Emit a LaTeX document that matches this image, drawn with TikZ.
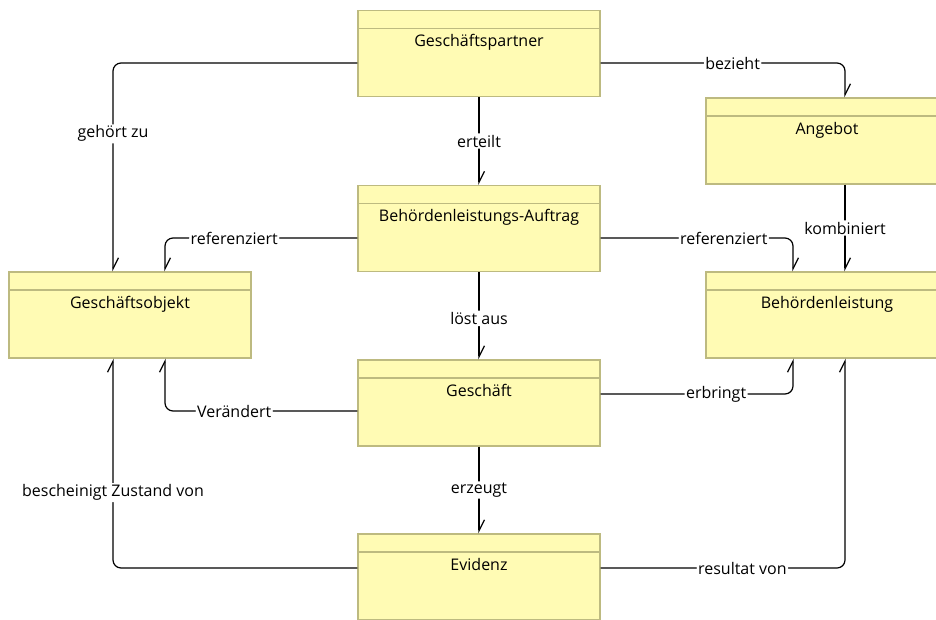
\documentclass[tikz,border=0pt]{standalone}
\usepackage{fontspec}
\setmainfont{Open Sans}
\usetikzlibrary{arrows.meta}
\definecolor{boxfill}{HTML}{FFFBB4}
\definecolor{boxline}{HTML}{BDBA80}
\tikzset{
  entity/.style={draw=boxline, fill=boxfill, line width=1.4pt, inner sep=0pt,
    minimum width=242pt, minimum height=86pt, text height=36pt, text depth=50pt,
    font=\fontsize{16}{18}\selectfont,
    path picture={\draw[boxline, line width=1.4pt]
      ([yshift=-18pt]path picture bounding box.north west) --
      ([yshift=-18pt]path picture bounding box.north east);}},
  conn/.style={draw, line width=1.2pt, rounded corners=8pt,
    -{Straight Barb[left, length=11pt, width=11pt]}},
  lbl/.style={fill=white, inner sep=1.5pt, font=\fontsize{16}{18}\selectfont}
}
\begin{document}
\begin{tikzpicture}[x=1pt,y=-1pt]
\useasboundingbox (0,0) rectangle (936,619);
% boxes
\node[entity] (gp)  at (479,53.5) {Geschäftspartner};
\node[entity] (ang) at (827,141)  {Angebot};
\node[entity] (auf) at (479,228.5) {Behördenleistungs-Auftrag};
\node[entity] (go)  at (130,315)  {Geschäftsobjekt};
\node[entity] (bl)  at (827,315)  {Behördenleistung};
\node[entity] (ges) at (479,403)  {Geschäft};
\node[entity] (ev)  at (479,577)  {Evidenz};
% connectors
\draw[conn] ([yshift=-9.5pt]gp.west) -| node[lbl,pos=0.67] {gehört zu} ([xshift=-17pt]go.north);
\draw[conn] ([yshift=-9.5pt]gp.east) -| node[lbl,pos=0.27] {bezieht} ([xshift=18pt]ang.north);
\draw[conn] (gp) -- node[lbl] {erteilt} (auf);
\draw[conn] ([yshift=-9.5pt]auf.west) -| node[lbl,pos=0.32] {referenziert} ([xshift=35pt]go.north);
\draw[conn] ([yshift=-9.5pt]auf.east) -| node[lbl,pos=0.32] {referenziert} ([xshift=-34pt]bl.north);
\draw[conn] ([xshift=18pt]ang.south) -- node[lbl] {kombiniert} ([xshift=18pt]bl.north);
\draw[conn] (auf) -- node[lbl,pos=0.53] {löst aus} (ges);
\draw[conn] ([yshift=-8pt]ges.west) -| node[lbl,pos=0.32] {Verändert} ([xshift=35pt]go.south);
\draw[conn] ([yshift=9pt]ges.east) -| node[lbl,pos=0.3] {erbringt} ([xshift=-34pt]bl.south);
\draw[conn] (ges) -- node[lbl] {erzeugt} (ev);
\draw[conn] ([yshift=9pt]ev.west) -| node[lbl,pos=0.68] {bescheinigt Zustand von} ([xshift=-17pt]go.south);
\draw[conn] ([yshift=9pt]ev.east) -| node[lbl,pos=0.29] {resultat von} ([xshift=18pt]bl.south);
\end{tikzpicture}
\end{document}
